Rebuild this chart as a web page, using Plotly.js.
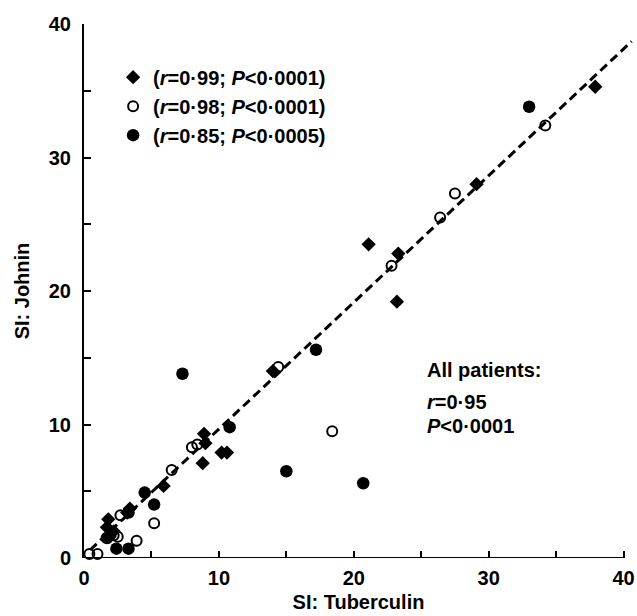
<!DOCTYPE html>
<html>
<head>
<meta charset="utf-8">
<script src="https://cdn.plot.ly/plotly-3.0.1.min.js"></script>
<style>html,body{margin:0;padding:0;background:#fff;}</style>
</head>
<body>
<div id="chart" style="width:637px;height:616px;"></div>
<script>
// Filled diamonds
const diamondX = [37.9, 29.1, 23.3, 21.1, 23.2, 14.0, 8.9, 9.0, 8.8, 10.2, 10.6, 5.9, 3.4, 3.2, 1.8, 1.7, 2.2, 1.9];
const diamondY = [35.3, 28.0, 22.8, 23.5, 19.2, 14.0, 9.3, 8.6, 7.1, 7.9, 7.9, 5.4, 3.7, 3.4, 2.9, 2.3, 2.0, 1.6];
// Open circles
const openX = [34.2, 27.5, 26.4, 22.8, 14.4, 18.4, 8.0, 8.4, 6.5, 5.2, 2.7, 2.2, 2.5, 3.9, 0.4, 1.0];
const openY = [32.4, 27.3, 25.5, 21.9, 14.3, 9.5, 8.3, 8.5, 6.6, 2.6, 3.2, 1.7, 1.6, 1.3, 0.3, 0.3];
// Filled circles
const filledX = [33.0, 17.2, 7.3, 10.8, 15.0, 20.7, 4.5, 5.2, 3.3, 1.7, 2.4, 3.3];
const filledY = [33.8, 15.6, 13.8, 9.8, 6.5, 5.6, 4.9, 4.0, 3.4, 1.5, 0.7, 0.7];
// Regression line (all patients)
const fitX = [0.45, 40.6];
const fitY = [0.6, 38.7];

const legendNames = [
  '(<i>r</i>=0·99; <i>P</i>&lt;0·0001)',
  '(<i>r</i>=0·98; <i>P</i>&lt;0·0001)',
  '(<i>r</i>=0·85; <i>P</i>&lt;0·0005)'
];
const tickVals = [0, 10, 20, 30, 40];
const tickText = ['0', '10', '20', '30', '40'];

const FONT = 'Liberation Sans, Arial, sans-serif';

const traces = [
  {x: fitX, y: fitY, mode: 'lines', showlegend: false, hoverinfo: 'skip',
   line: {color: '#000', width: 3, dash: '9px,5px'}},
  {x: diamondX, y: diamondY, mode: 'markers', name: legendNames[0], cliponaxis: false,
   marker: {symbol: 'diamond', size: 11, color: '#000'}},
  {x: openX, y: openY, mode: 'markers', name: legendNames[1], cliponaxis: false,
   marker: {symbol: 'circle-open', size: 10, color: '#000', line: {width: 2, color: '#000'}}},
  {x: filledX, y: filledY, mode: 'markers', name: legendNames[2], cliponaxis: false,
   marker: {symbol: 'circle', size: 12.5, color: '#000'}}
];

const layout = {
  width: 637, height: 616,
  margin: {l: 84, r: 3.55, t: 24, b: 58},
  paper_bgcolor: '#fff', plot_bgcolor: '#fff',
  font: {family: FONT, color: '#000', size: 20, weight: 'bold'},
  showlegend: true,
  legend: {x: 0.053, y: 0.937, xanchor: 'left', yanchor: 'top',
           font: {family: FONT, size: 20, color: '#000', weight: 'bold'},
           bgcolor: 'rgba(0,0,0,0)', borderwidth: 0, itemwidth: 30},
  xaxis: {range: [0, 40.7], showgrid: false, zeroline: false, showline: false,
          tickvals: tickVals, ticktext: tickText, ticks: 'inside', ticklen: 7, tickwidth: 2, tickcolor: '#000',
          minor: {tickvals: [5, 15, 25, 35], ticks: 'inside', ticklen: 7, tickwidth: 2, tickcolor: '#000'},
          tickfont: {family: FONT, size: 20, color: '#000', weight: 'bold'},
          ticklabelstandoff: 6,
          title: {text: 'SI: Tuberculin', font: {family: FONT, size: 20, color: '#000', weight: 'bold'}, standoff: 6}},
  yaxis: {range: [0, 40], showgrid: false, zeroline: false, showline: true, linecolor: '#000', linewidth: 2,
          tickvals: tickVals, ticktext: tickText, ticks: 'inside', ticklen: 7, tickwidth: 2, tickcolor: '#000',
          minor: {tickvals: [5, 15, 25, 35], ticks: 'inside', ticklen: 7, tickwidth: 2, tickcolor: '#000'},
          tickfont: {family: FONT, size: 20, color: '#000', weight: 'bold'},
          ticklabelstandoff: 7,
          title: {text: 'SI: Johnin', font: {family: FONT, size: 20, color: '#000', weight: 'bold'}, standoff: 14}},
  shapes: [
    {type: 'line', xref: 'x', yref: 'y', x0: 0, x1: 40, y0: 0, y1: 0, line: {color: '#000', width: 2}}
  ],
  annotations: [
    {xref: 'x', yref: 'y', x: 25.3, y: 14.1, xanchor: 'left', yanchor: 'middle', showarrow: false,
     text: 'All patients:', font: {family: FONT, size: 20, color: '#000', weight: 'bold'}},
    {xref: 'x', yref: 'y', x: 25.3, y: 11.7, xanchor: 'left', yanchor: 'middle', showarrow: false,
     text: '<i>r</i>=0·95', font: {family: FONT, size: 20, color: '#000', weight: 'bold'}},
    {xref: 'x', yref: 'y', x: 25.3, y: 9.9, xanchor: 'left', yanchor: 'middle', showarrow: false,
     text: '<i>P</i>&lt;0·0001', font: {family: FONT, size: 20, color: '#000', weight: 'bold'}}
  ]
};

Plotly.newPlot('chart', traces, layout, {displayModeBar: false, staticPlot: true});
</script>
</body>
</html>
